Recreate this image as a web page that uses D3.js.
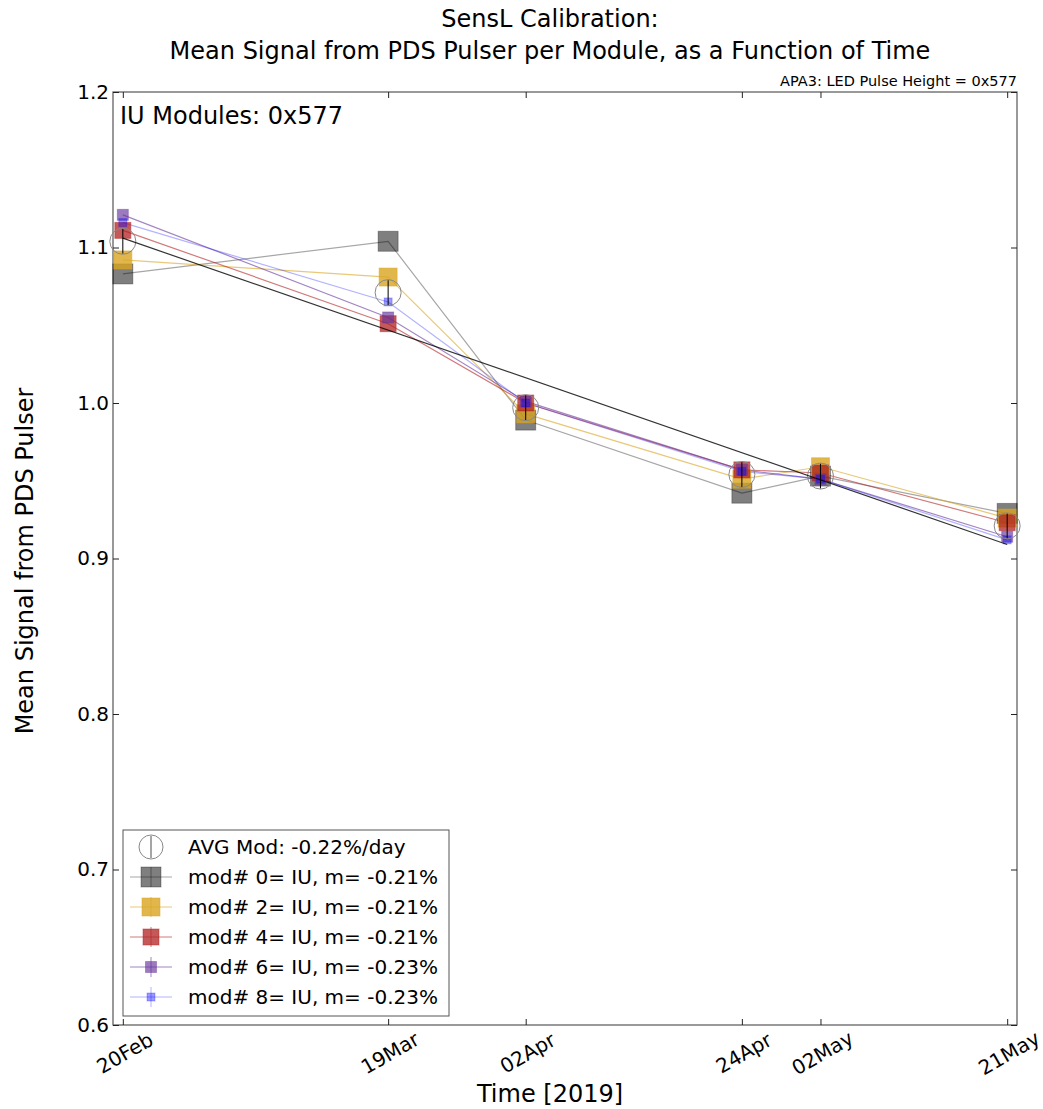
<!DOCTYPE html>
<html>
<head>
<meta charset="utf-8">
<script src="https://cdn.jsdelivr.net/npm/d3@7"></script>
<style>
  body { margin: 0; background: #fff; }
  text { font-family: "DejaVu Sans", sans-serif; fill: #000; }
</style>
</head>
<body>
<svg id="chart" width="1043" height="1109"></svg>
<script>
// ---- data ----
const dates = ['2019-02-20', '2019-03-19', '2019-04-02', '2019-04-24', '2019-05-02', '2019-05-21'];
const tickLabels = ['20Feb', '19Mar', '02Apr', '24Apr', '02May', '21May'];
const mod0 = [1.083, 1.104, 0.989, 0.942, 0.953, 0.929];
const mod2 = [1.092, 1.081, 0.993, 0.951, 0.959, 0.926];
const mod4 = [1.111, 1.051, 1.000, 0.957, 0.955, 0.923];
const mod6 = [1.121, 1.055, 1.001, 0.957, 0.951, 0.914];
const mod8 = [1.116, 1.065, 1.000, 0.956, 0.951, 0.912];
const avgMod = [1.104, 1.071, 0.997, 0.954, 0.953, 0.921];
const avgErr = [0.008, 0.008, 0.008, 0.008, 0.008, 0.008];
const fitEnds = [1.106, 0.909];
const yTicks = [0.6, 0.7, 0.8, 0.9, 1.0, 1.1, 1.2];
const moduleLabels = ['mod# 0= IU, m= -0.21%', 'mod# 2= IU, m= -0.21%', 'mod# 4= IU, m= -0.21%',
  'mod# 6= IU, m= -0.23%', 'mod# 8= IU, m= -0.23%'];
const avgLabel = 'AVG Mod: -0.22%/day';

const parse = d3.timeParse('%Y-%m-%d');
const times = dates.map(parse);

const modules = [
  { vals: mod0, color: '#000000', alpha: 0.5, size: 20, lineAlpha: 0.35 },
  { vals: mod2, color: '#daa520', alpha: 0.8, size: 18, lineAlpha: 0.6 },
  { vals: mod4, color: '#b22222', alpha: 0.75, size: 16, lineAlpha: 0.6 },
  { vals: mod6, color: '#663399', alpha: 0.65, size: 11, lineAlpha: 0.6 },
  { vals: mod8, color: '#0000ff', alpha: 0.4, size: 8, lineAlpha: 0.3 }
];

const svg = d3.select('#chart');
const pLeft = 113, pRight = 1017, pTop = 92, pBottom = 1025;

const x = d3.scaleTime()
  .domain([d3.timeDay.offset(times[0], -1), d3.timeDay.offset(times[5], 1)])
  .range([pLeft, pRight]);
const y = d3.scaleLinear().domain([0.6, 1.2]).range([pBottom, pTop]);

// titles
svg.append('text').attr('x', 550).attr('y', 27).attr('text-anchor', 'middle')
  .style('font-size', '24px').text('SensL Calibration:');
svg.append('text').attr('x', 550).attr('y', 59).attr('text-anchor', 'middle')
  .style('font-size', '24px').text('Mean Signal from PDS Pulser per Module, as a Function of Time');
svg.append('text').attr('x', pRight).attr('y', 86).attr('text-anchor', 'end')
  .style('font-size', '14.5px').text('APA3: LED Pulse Height = 0x577');

// frame
svg.append('rect').attr('x', pLeft).attr('y', pTop)
  .attr('width', pRight - pLeft).attr('height', pBottom - pTop)
  .attr('fill', 'none').attr('stroke', '#555').attr('stroke-width', 1.2);

// y ticks (inside, both sides)
const yAxisL = d3.axisLeft(y).tickValues(yTicks).tickFormat(d3.format('.1f')).tickSizeInner(-6).tickSizeOuter(0).tickPadding(4);
const gy = svg.append('g').attr('transform', `translate(${pLeft},0)`).call(yAxisL);
gy.select('.domain').remove();
gy.selectAll('text').style('font-size', '20px').attr('font-family', 'DejaVu Sans');
const gyR = svg.append('g').attr('transform', `translate(${pRight},0)`)
  .call(d3.axisRight(y).tickValues(yTicks).tickSizeInner(-6).tickSizeOuter(0).tickFormat(''));
gyR.select('.domain').remove();

// x ticks (inside, both sides)
const gx = svg.append('g').attr('transform', `translate(0,${pBottom})`)
  .call(d3.axisBottom(x).tickValues(times).tickSizeInner(-6).tickSizeOuter(0).tickFormat(''));
gx.select('.domain').remove();
const gxT = svg.append('g').attr('transform', `translate(0,${pTop})`)
  .call(d3.axisTop(x).tickValues(times).tickSizeInner(-6).tickSizeOuter(0).tickFormat(''));
gxT.select('.domain').remove();
svg.selectAll('.tick line').attr('stroke', '#222');

svg.append('g').selectAll('text').data(times).join('text')
  .attr('transform', d => `translate(${x(d) + 2},${pBottom + 28}) rotate(-30)`)
  .attr('text-anchor', 'middle').attr('dy', '0.35em')
  .style('font-size', '20px')
  .text((d, i) => tickLabels[i]);

// axis titles
svg.append('text').attr('x', 550).attr('y', 1102).attr('text-anchor', 'middle')
  .style('font-size', '24px').text('Time [2019]');
svg.append('text').attr('transform', 'translate(33,561) rotate(-90)')
  .attr('text-anchor', 'middle').style('font-size', '24px').text('Mean Signal from PDS Pulser');

svg.append('text').attr('x', 120).attr('y', 124)
  .style('font-size', '24px').text('IU Modules: 0x577');

// series
const plot = svg.append('g');
const line = d3.line().x((d, i) => x(times[i])).y(d => y(d));

modules.forEach(m => {
  plot.append('path').datum(m.vals).attr('d', line)
    .attr('fill', 'none').attr('stroke', m.color)
    .attr('stroke-opacity', m.lineAlpha).attr('stroke-width', 1.2);
});
modules.forEach(m => {
  plot.append('g').selectAll('rect').data(m.vals).join('rect')
    .attr('x', (d, i) => x(times[i]) - m.size / 2)
    .attr('y', d => y(d) - m.size / 2)
    .attr('width', m.size).attr('height', m.size)
    .attr('fill', m.color).attr('fill-opacity', m.alpha)
    .attr('stroke', m.color).attr('stroke-opacity', m.alpha * 0.6).attr('stroke-width', 1);
});

// average points with error bars
const avgG = plot.append('g');
avgG.selectAll('line').data(avgMod).join('line')
  .attr('x1', (d, i) => x(times[i])).attr('x2', (d, i) => x(times[i]))
  .attr('y1', (d, i) => y(d + avgErr[i])).attr('y2', (d, i) => y(d - avgErr[i]))
  .attr('stroke', '#000').attr('stroke-width', 1);
avgG.selectAll('circle').data(avgMod).join('circle')
  .attr('cx', (d, i) => x(times[i])).attr('cy', d => y(d)).attr('r', 13)
  .attr('fill', 'none').attr('stroke', '#888').attr('stroke-width', 1);

// linear fit of the average
plot.append('line')
  .attr('x1', x(times[0])).attr('y1', y(fitEnds[0]))
  .attr('x2', x(times[5])).attr('y2', y(fitEnds[1]))
  .attr('stroke', '#000').attr('stroke-opacity', 0.8).attr('stroke-width', 1.2);

// legend
const lg = svg.append('g');
lg.append('rect').attr('x', 123).attr('y', 830).attr('width', 326).attr('height', 186)
  .attr('fill', '#fff').attr('stroke', '#555').attr('stroke-width', 1);
const rowY = i => 847 + i * 30;
const mx = 151;
lg.append('circle').attr('cx', mx).attr('cy', rowY(0)).attr('r', 12)
  .attr('fill', 'none').attr('stroke', '#888');
lg.append('line').attr('x1', mx).attr('x2', mx).attr('y1', rowY(0) - 11).attr('y2', rowY(0) + 11)
  .attr('stroke', '#000').attr('stroke-opacity', 0.7);
lg.append('text').attr('x', 188).attr('y', rowY(0)).attr('dy', '0.35em')
  .style('font-size', '20px').text(avgLabel);
modules.forEach((m, i) => {
  const cy = rowY(i + 1);
  lg.append('line').attr('x1', 130).attr('x2', 172).attr('y1', cy).attr('y2', cy)
    .attr('stroke', m.color).attr('stroke-opacity', m.lineAlpha);
  lg.append('line').attr('x1', mx).attr('x2', mx).attr('y1', cy - 10).attr('y2', cy + 10)
    .attr('stroke', m.color).attr('stroke-opacity', m.lineAlpha);
  lg.append('rect').attr('x', mx - m.size / 2).attr('y', cy - m.size / 2)
    .attr('width', m.size).attr('height', m.size)
    .attr('fill', m.color).attr('fill-opacity', m.alpha)
    .attr('stroke', m.color).attr('stroke-opacity', m.alpha * 0.6);
  lg.append('text').attr('x', 188).attr('y', cy).attr('dy', '0.35em')
    .style('font-size', '20px').text(moduleLabels[i]);
});
</script>
</body>
</html>
